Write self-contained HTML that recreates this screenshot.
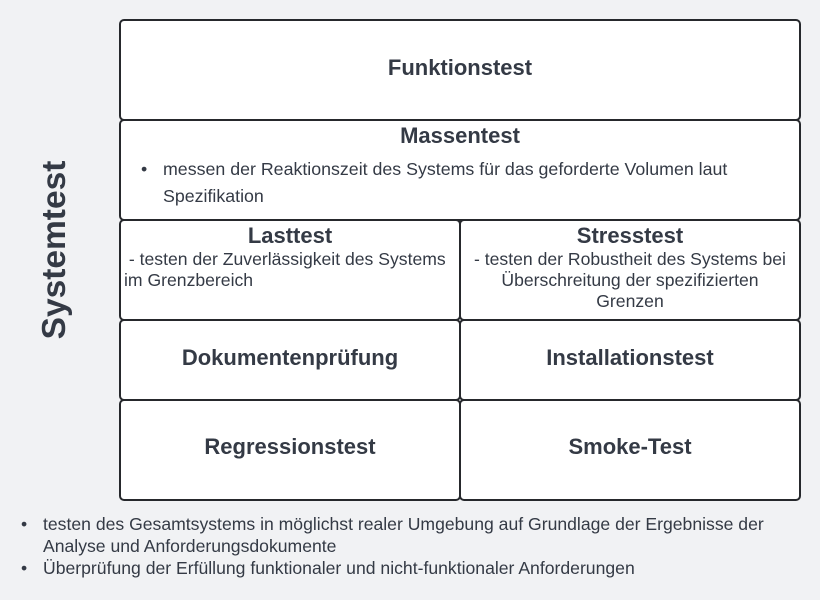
<!DOCTYPE html>
<html><head><meta charset="utf-8"><style>
body{margin:0;width:820px;height:600px;background:#f1f2f4;font-family:"Liberation Sans",sans-serif;color:#343a45;position:relative;overflow:hidden}
.b{position:absolute;box-sizing:border-box;border:2px solid #26282c;border-radius:5px;background:#fff;text-align:center}
.t{font-weight:bold;font-size:22px}
.c{display:flex;align-items:center;justify-content:center}
.p{font-size:17.6px;line-height:21px}
.rot{position:absolute;left:55px;top:250px;transform:translate(-50%,-50%) rotate(-90deg);font-weight:bold;font-size:33.5px;white-space:nowrap}
.bl{position:absolute;font-size:17.6px;line-height:22px;left:43px}
.bl:before{content:"•";position:absolute;left:-22px}
</style></head><body>
<div class="rot">Systemtest</div>
<div class="b c t" style="left:119px;top:19px;width:682px;height:102px;padding-bottom:4px">Funktionstest</div>
<div class="b" style="left:119px;top:119px;width:682px;height:102px">
<div class="t" style="margin-top:2px">Massentest</div>
<div class="p" style="position:absolute;left:42px;top:35px;text-align:left;line-height:27px;width:620px;font-size:17.8px"><span style="position:absolute;left:-22px">•</span>messen der Reaktionszeit des Systems für das geforderte Volumen laut Spezifikation</div>
</div>
<div class="b" style="left:119px;top:219px;width:342px;height:102px">
<div class="t" style="margin-top:2px">Lasttest</div>
<div class="p" style="text-align:left;padding-left:3px;white-space:pre-wrap"> - testen der Zuverlässigkeit des Systems im Grenzbereich</div>
</div>
<div class="b" style="left:459px;top:219px;width:342px;height:102px">
<div class="t" style="margin-top:2px">Stresstest</div>
<div class="p" style="padding:0 6px"> - testen der Robustheit des Systems bei Überschreitung der spezifizierten Grenzen</div>
</div>
<div class="b c t" style="left:119px;top:319px;width:342px;height:82px;padding-bottom:4px">Dokumentenprüfung</div>
<div class="b c t" style="left:459px;top:319px;width:342px;height:82px;padding-bottom:4px">Installationstest</div>
<div class="b c t" style="left:119px;top:399px;width:342px;height:102px;padding-bottom:6px">Regressionstest</div>
<div class="b c t" style="left:459px;top:399px;width:342px;height:102px;padding-bottom:6px">Smoke-Test</div>
<div class="bl" style="top:513px;width:745px">testen des Gesamtsystems in möglichst realer Umgebung auf Grundlage der Ergebnisse der Analyse und Anforderungsdokumente</div>
<div class="bl" style="top:557px">Überprüfung der Erfüllung funktionaler und nicht-funktionaler Anforderungen</div>
</body></html>
